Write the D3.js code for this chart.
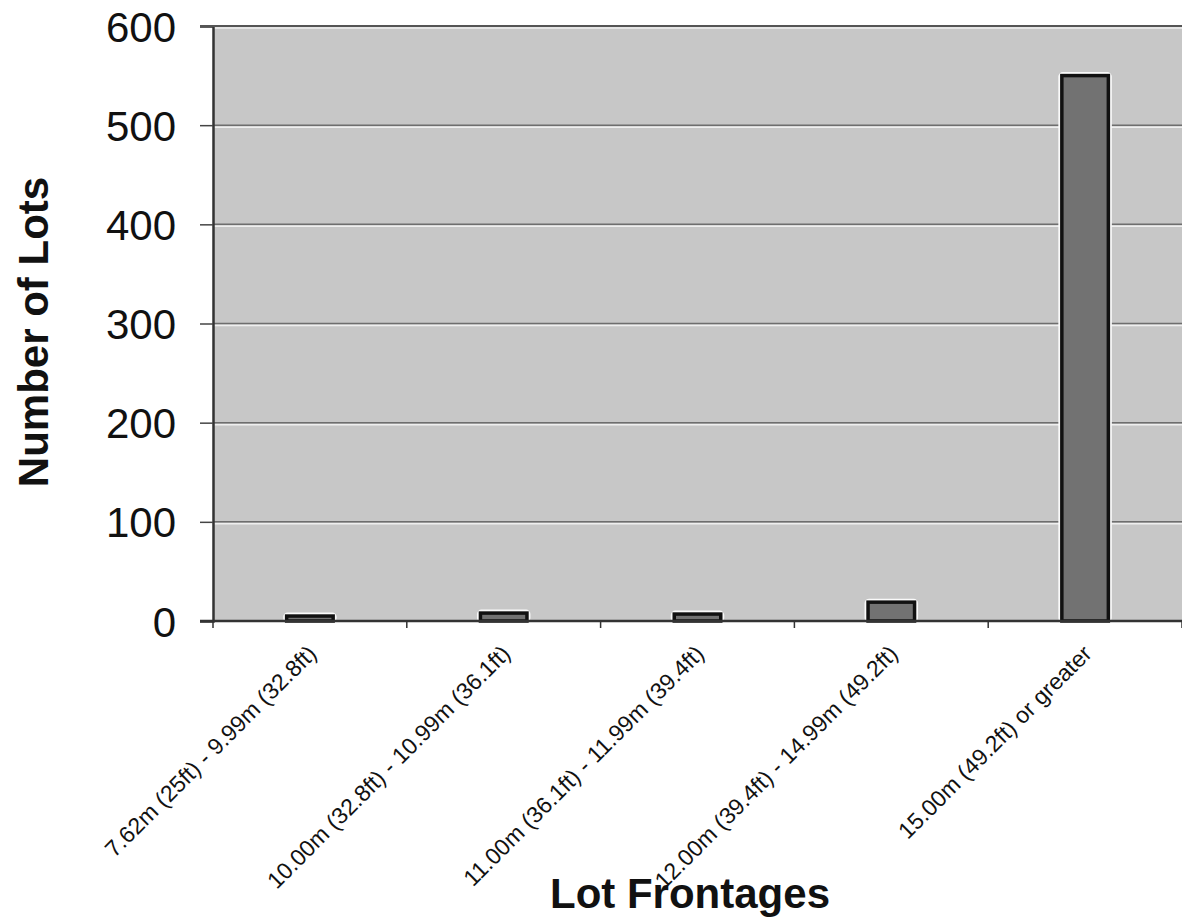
<!DOCTYPE html>
<html>
<head>
<meta charset="utf-8">
<script src="https://cdn.jsdelivr.net/npm/d3@7"></script>
<style>
  body { margin: 0; background: #fff; }
  svg { display: block; font-family: "Liberation Sans", Arial, sans-serif; }
</style>
</head>
<body>
<svg id="chart" width="1182" height="923"></svg>
<script>
'use strict';

// data
var categories = [
    '7.62m (25ft) - 9.99m (32.8ft)',
    '10.00m (32.8ft) - 10.99m (36.1ft)',
    '11.00m (36.1ft) - 11.99m (39.4ft)',
    '12.00m (39.4ft) - 14.99m (49.2ft)',
    '15.00m (49.2ft) or greater'
];
var lots = [5, 8, 7, 19, 550];
var yTicks = [0, 100, 200, 300, 400, 500, 600];

var svg = d3.select('#chart');
var plotLeft = 213, plotRight = 1182, plotTop = 26, plotBottom = 621;

var x = d3.scaleBand().domain(categories).range([plotLeft, plotRight]).paddingInner(0.76).paddingOuter(0.38);
var y = d3.scaleLinear().domain([0, 600]).range([plotBottom, plotTop]);

/* plot area */
svg.append('rect')
    .attr('x', plotLeft).attr('y', plotTop)
    .attr('width', plotRight - plotLeft).attr('height', plotBottom - plotTop)
    .attr('fill', '#c7c7c7');

/* gridlines: dark line with a light one under it */
yTicks.slice(1).forEach(function(t) {
    svg.append('line')
        .attr('x1', plotLeft).attr('x2', plotRight)
        .attr('y1', y(t)).attr('y2', y(t))
        .attr('stroke', '#6e6e6e').attr('stroke-width', 1.5);
    svg.append('line')
        .attr('x1', plotLeft).attr('x2', plotRight)
        .attr('y1', y(t) + 2).attr('y2', y(t) + 2)
        .attr('stroke', '#efefef').attr('stroke-width', 1.5);
});

/* bars */
svg.selectAll('rect.halo')
    .data(lots)
    .enter().append('rect')
    .attr('class', 'halo')
    .attr('x', function(d, i) { return x(categories[i]) - 2; })
    .attr('y', function(d) { return y(d) - 2; })
    .attr('width', x.bandwidth() + 4)
    .attr('height', function(d) { return y(0) - y(d) + 2; })
    .attr('fill', 'none')
    .attr('stroke', '#fafafa').attr('stroke-width', 3).attr('rx', 3);

svg.selectAll('rect.bar')
    .data(lots)
    .enter().append('rect')
    .attr('class', 'bar')
    .attr('x', function(d, i) { return x(categories[i]); })
    .attr('y', function(d) { return y(d); })
    .attr('width', x.bandwidth())
    .attr('height', function(d) { return y(0) - y(d); })
    .attr('fill', '#727272')
    .attr('stroke', '#111').attr('stroke-width', 3.5);

/* axes */
var yAxis = svg.append('g')
    .attr('transform', 'translate(' + plotLeft + ',0)')
    .call(d3.axisLeft(y).tickValues(yTicks).tickSize(13).tickPadding(24));
yAxis.select('.domain').attr('stroke', '#333').attr('stroke-width', 2.5);
yAxis.selectAll('.tick line').attr('stroke', '#444').attr('stroke-width', 1.5);
yAxis.selectAll('text')
    .attr('font-size', 42).attr('fill', '#111').attr('dy', '0.36em');

svg.append('line')
    .attr('x1', plotLeft - 13).attr('x2', plotRight)
    .attr('y1', plotTop).attr('y2', plotTop)
    .attr('stroke', '#555').attr('stroke-width', 2);

var xAxis = svg.append('g')
    .attr('transform', 'translate(0,' + plotBottom + ')')
    .call(d3.axisBottom(x).tickSize(0).tickPadding(0));
xAxis.select('.domain').remove();
xAxis.append('line')
    .attr('x1', plotLeft - 13).attr('x2', plotRight)
    .attr('stroke', '#333').attr('stroke-width', 2.5);

// boundary ticks between categories
var step = x.step();
d3.range(0, categories.length + 1).forEach(function(i) {
    xAxis.append('line')
        .attr('x1', plotLeft + i * step).attr('x2', plotLeft + i * step)
        .attr('y1', 0).attr('y2', 7)
        .attr('stroke', '#333').attr('stroke-width', 1.5);
});

xAxis.selectAll('.tick text')
    .attr('font-size', 23).attr('fill', '#111')
    .attr('text-anchor', 'end')
    .attr('dy', 0)
    .attr('transform', 'translate(8,34) rotate(-45)');

/* titles */
svg.append('text')
    .attr('transform', 'translate(48,332) rotate(-90)')
    .attr('text-anchor', 'middle')
    .attr('font-size', 42).attr('font-weight', 'bold').attr('fill', '#111')
    .text('Number of Lots');

svg.append('text')
    .attr('x', 690).attr('y', 908)
    .attr('text-anchor', 'middle')
    .attr('font-size', 42).attr('font-weight', 'bold').attr('fill', '#111')
    .text('Lot Frontages');
</script>
</body>
</html>
